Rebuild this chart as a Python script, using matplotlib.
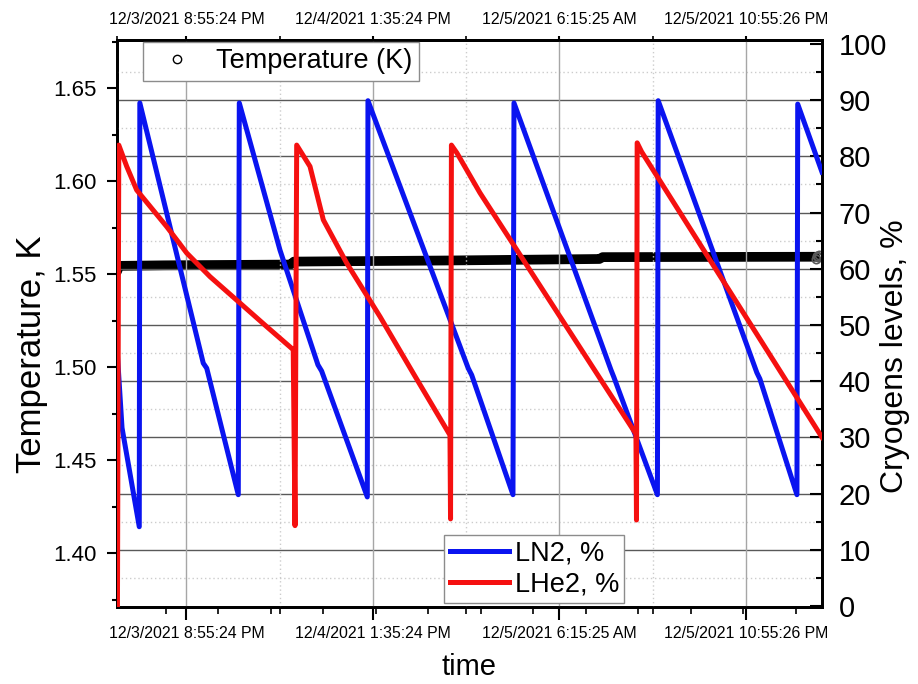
import numpy as np
import pandas as pd
import matplotlib
matplotlib.use("Agg")
import matplotlib.pyplot as plt
from matplotlib.lines import Line2D
from matplotlib import font_manager

plt.rcParams['font.family'] = ['Liberation Sans', 'DejaVu Sans']

# pick a condensed face for the date labels if there is one
try:
    font_manager.findfont('Liberation Sans Narrow', fallback_to_default=False)
    date_font = ['Liberation Sans Narrow', 'Liberation Sans']
    date_size = 13
except ValueError:
    date_font = ['Liberation Sans']
    date_size = 11.4

#region data
# x is in hours after the first labelled tick
t0 = pd.Timestamp("2021-12-03 20:55:24")
tick_labels = ["12/3/2021 8:55:24 PM", "12/4/2021 1:35:24 PM",
               "12/5/2021 6:15:25 AM", "12/5/2021 10:55:26 PM"]
tick_hours = [(pd.to_datetime(s, format="%m/%d/%Y %I:%M:%S %p") - t0) / pd.Timedelta(hours=1)
              for s in tick_labels]

# LN2 level, %
ln2_t = [-6.15, -5.76, -4.22, -4.17, 1.50, 1.81, 4.63, 4.72, 8.36, 11.75, 12.08, 16.16,
         16.22, 25.18, 25.49, 29.18, 29.27, 37.94, 38.20, 42.09, 42.16, 50.98, 51.25,
         54.56, 54.63, 56.80]
ln2_v = [44.0, 31.7, 14.1, 89.5, 43.2, 42.3, 19.8, 89.5, 63.3, 42.9, 41.8, 19.4,
         89.9, 42.3, 41.1, 19.8, 89.5, 42.0, 40.7, 19.8, 89.9, 41.5, 40.4,
         19.8, 89.3, 77.2]

# LHe2 level, %
lhe_t = [-6.17, -6.05, -5.34, -4.45, -1.77, 0.02, 2.10, 4.78, 7.17, 9.54, 9.70, 9.85,
         11.04, 12.23, 14.32, 17.29, 20.27, 23.55, 23.60, 23.68, 24.17, 26.23, 40.17,
         40.22, 40.28, 40.68, 56.80]
lhe_v = [0.0, 82.0, 78.2, 74.0, 67.5, 62.8, 58.6, 53.9, 49.7, 45.6, 14.3, 82.0,
         78.2, 68.7, 61.0, 51.5, 41.4, 30.4, 15.5, 82.0, 80.6, 73.5, 30.6,
         15.3, 82.4, 80.8, 30.0]

# temperature, K
temp_t = [-6.21, -6.0, -2.0, 9.3, 9.6, 23.5, 36.9, 37.2, 56.2]
temp_v = [1.5515, 1.5545, 1.5548, 1.5552, 1.5568, 1.5574, 1.5582, 1.5592, 1.5594]
# a few stray readings at the end
temp_end_t = [56.25, 56.35, 56.45, 56.55]
temp_end_v = [1.5580, 1.5600, 1.5592, 1.5604]

temp_ticks = [1.40, 1.45, 1.50, 1.55, 1.60, 1.65]
level_ticks = [0, 10, 20, 30, 40, 50, 60, 70, 80, 90, 100]
#endregion

fig = plt.figure(figsize=(9.18, 6.84), dpi=100)
ax = fig.add_axes([117 / 918, 1 - 607 / 684, 705 / 918, 567 / 684])
ax2 = ax.twinx()

xlim = (-6.21, 56.8)

# temperature layer
ax.plot(temp_t, temp_v, color='black', lw=7, solid_capstyle='round', zorder=2)
ax.plot(temp_end_t, temp_end_v, 'o', mfc='none', mec='0.35', ms=6, mew=1.2, zorder=2)
ax.set_xlim(*xlim)
ax.set_ylim(1.371, 1.676)
ax.set_yticks(temp_ticks)
ax.set_yticklabels([f"{v:.2f}" for v in temp_ticks])
ax.set_yticks([v + 0.025 for v in temp_ticks[:-1]] + [1.375, 1.675], minor=True)
ax.tick_params(axis='y', which='major', direction='out', length=7, width=1.5, labelsize=16, pad=8)
ax.tick_params(axis='y', which='minor', direction='out', length=3.5, width=1.5)

ax.set_xticks(tick_hours)
ax.set_xticklabels(tick_labels, fontsize=date_size, family=date_font)
bottom_minor = list(np.arange(-1.83, 56.8, 4.69)) + [(a + b) / 2 for a, b in zip(tick_hours[:-1], tick_hours[1:])]
ax.set_xticks(bottom_minor, minor=True)
ax.tick_params(axis='x', which='major', direction='out', length=9, width=1.5, pad=5)
ax.tick_params(axis='x', which='minor', direction='out', length=5, width=1.2)

top = ax.secondary_xaxis('top')
top.set_xticks(tick_hours)
top.set_xticklabels(tick_labels, fontsize=date_size, family=date_font)
top.set_xticks([xlim[0]] + [(a + b) / 2 for a, b in zip(tick_hours[:-1], tick_hours[1:])], minor=True)
top.tick_params(axis='x', which='major', direction='out', length=3, width=1.5, pad=6)
top.tick_params(axis='x', which='minor', direction='out', length=3, width=1.2)

ax.set_ylabel('Temperature, K', fontsize=25)
ax.yaxis.set_label_coords(-0.0975, 0.446)
ax.set_xlabel('time', fontsize=21)
ax.xaxis.set_label_coords(0.5, -0.082)

# cryogen levels layer
ax2.set_ylim(-0.18, 100.7)
ax2.set_yticks(level_ticks)
ax2.set_yticks([v + 5 for v in level_ticks[:-1]], minor=True)
ax2.tick_params(axis='y', which='major', direction='in', length=9, width=1.5, labelsize=21, pad=12)
ax2.tick_params(axis='y', which='minor', direction='in', length=4.5, width=1.5)
ax2.set_ylabel('Cryogens levels, %', fontsize=23)
ax2.yaxis.set_label_coords(1.082, 0.443)

for v in level_ticks[1:-1]:
    ax2.axhline(v, color='0.35', lw=1, zorder=0.5)
for v in level_ticks[:-1]:
    ax2.axhline(v + 5, color='0.8', lw=1, ls=(0, (1, 2)), zorder=0.5)
for h in tick_hours:
    ax2.axvline(h, color='0.65', lw=1, zorder=0.5)
for a, b in zip(tick_hours[:-1], tick_hours[1:]):
    ax2.axvline((a + b) / 2, color='0.8', lw=1, ls=(0, (1, 2)), zorder=0.5)

ln2_line, = ax2.plot(ln2_t, ln2_v, color='#0a14f0', lw=3.6, zorder=3)
lhe_line, = ax2.plot(lhe_t, lhe_v, color='#f51010', lw=3.6, zorder=3)

for a in (ax, ax2):
    for s in a.spines.values():
        s.set_linewidth(2)
top.spines['top'].set_linewidth(2)

temp_handle = Line2D([], [], marker='o', ls='none', mfc='none', mec='black', ms=6, mew=1)
leg1 = ax2.legend([temp_handle], ['Temperature (K)'], loc='upper left',
                  bbox_to_anchor=(0.037, 0.997), borderaxespad=0, fancybox=False,
                  edgecolor='0.55', framealpha=1, fontsize=19.5, handlelength=2.0,
                  handletextpad=0.45, borderpad=0.25)
leg1.get_frame().set_linewidth(1)
ax2.add_artist(leg1)
leg2 = ax2.legend([ln2_line, lhe_line], ['LN2, %', 'LHe2, %'], loc='lower left',
                  bbox_to_anchor=(0.464, 0.007), borderaxespad=0, fancybox=False,
                  edgecolor='0.55', framealpha=1, fontsize=19.5, handlelength=2.2,
                  handletextpad=0.2, borderpad=0.2, labelspacing=0.2)
leg2.get_frame().set_linewidth(1)

fig.savefig("out.png", dpi=100)
